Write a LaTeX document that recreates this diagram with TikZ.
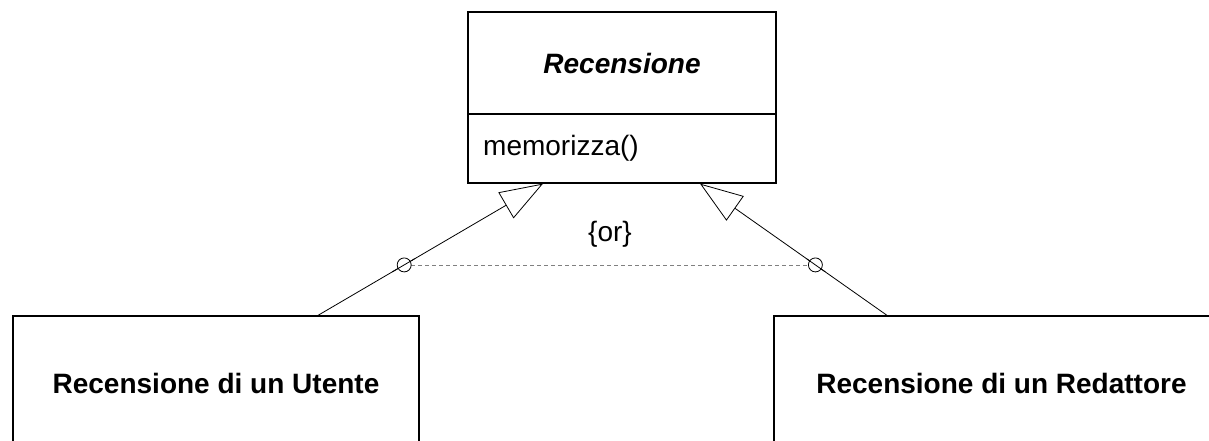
\documentclass[tikz,border=0pt]{standalone}
\usepackage{fontspec}
\setmainfont{Liberation Sans}
\usetikzlibrary{arrows.meta,calc}

\tikzset{
  classbox/.style={draw, line width=1.3pt, inner sep=0pt},
  gen/.style={line width=0.8pt, -{Triangle[open, length=43pt, width=30pt, line width=0.8pt]}},
  orknob/.style={draw, circle, line width=0.8pt, minimum size=14pt, inner sep=0pt, fill=white},
  ordash/.style={draw=gray, line width=0.7pt, dash pattern=on 4pt off 3pt},
  lbl/.style={font=\fontsize{28pt}{33pt}\selectfont, inner sep=0pt},
}

\begin{document}
\begin{tikzpicture}[x=1pt, y=-1pt]
\useasboundingbox (0,0) rectangle (1209,440);
\clip (0,0) rectangle (1209,440);

% abstract base class with one operation compartment
\node[classbox, minimum width=308pt, minimum height=171pt] (rec) at (622,97.5) {};
\draw[line width=1.3pt] (rec.west |- 0,114) -- (rec.east |- 0,114);
\node[lbl, font=\fontsize{28pt}{33pt}\selectfont\bfseries\itshape] (title) at (622,63) {Recensione};
\node[lbl, anchor=west] (op) at (483,148) {memorizza()};

% the two specialisations (cut by the page edge)
\node[classbox, minimum width=406pt, minimum height=140pt] (ut) at (216,386) {};
\node[lbl, font=\fontsize{28pt}{33pt}\selectfont\bfseries] (utlbl) at (216,383) {Recensione di un Utente};
\node[classbox, minimum width=455pt, minimum height=140pt] (red) at (1001.5,386) {};
\node[lbl, font=\fontsize{28pt}{33pt}\selectfont\bfseries] (redlbl) at (1001.5,383) {Recensione di un Redattore};

% generalisation arrows
\coordinate (utTop) at ($(ut.north)+(102,0)$);
\coordinate (redTop) at ($(red.north)+(-114.5,0)$);
\coordinate (recL) at ($(rec.south)+(-79,0)$);
\coordinate (recR) at ($(rec.south)+(78,0)$);
\draw[gen] (utTop) -- coordinate[pos=0.383] (kl) (recL);
\draw[gen] (redTop) -- coordinate[pos=0.383] (kr) (recR);

% {or} constraint between the two generalisations
\draw[ordash] (kl) -- (kr);
\node[orknob] (cl) at (kl) {};
\node[orknob] (cr) at (kr) {};
\draw[line width=0.8pt] ($(utTop)!0.33!(recL)$) -- ($(utTop)!0.43!(recL)$);
\draw[line width=0.8pt] ($(redTop)!0.33!(recR)$) -- ($(redTop)!0.43!(recR)$);
\node[lbl] (or) at (610,234) {\{or\}};
\end{tikzpicture}
\end{document}
